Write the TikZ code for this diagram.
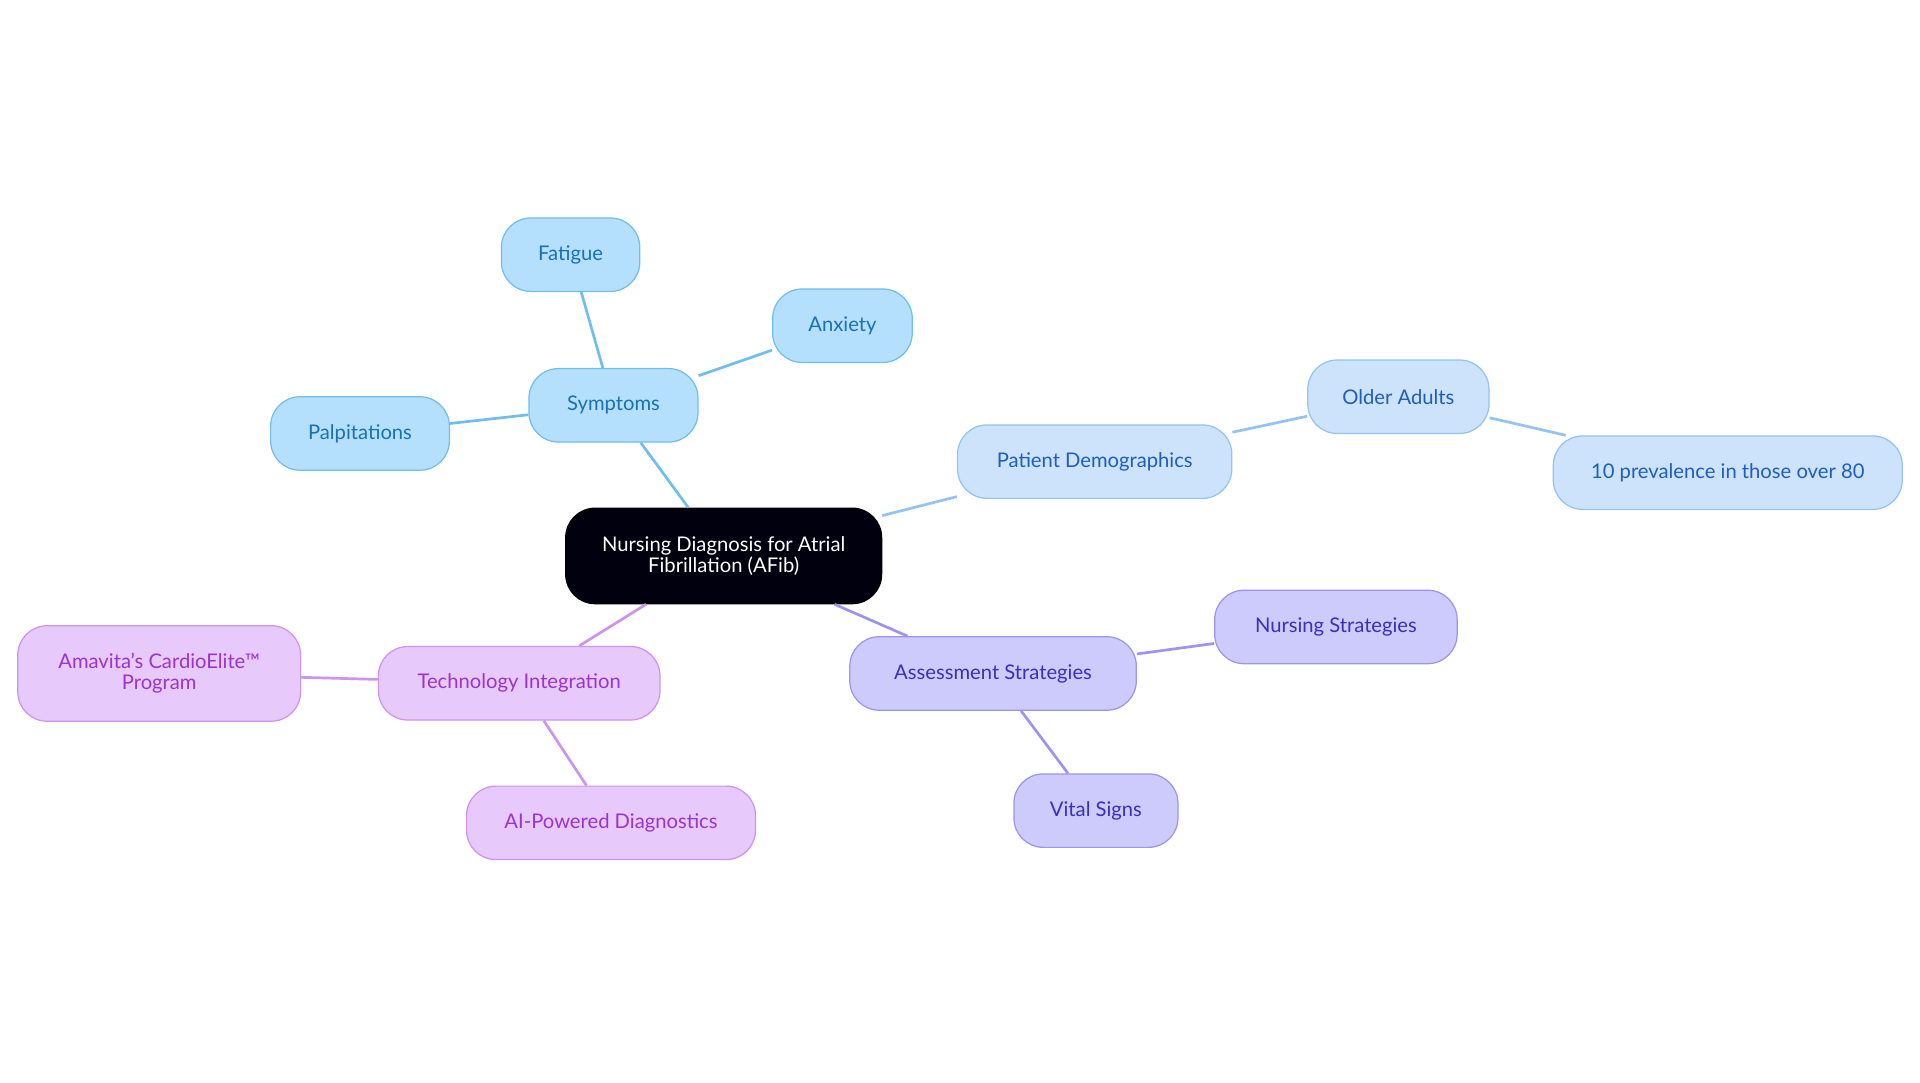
\documentclass[tikz,border=0pt]{standalone}
\usepackage{fontspec}
\setmainfont{Lato}
\begin{document}
\begin{tikzpicture}[x=1pt,y=-1pt,
base/.style={rounded corners=24pt,minimum height=60pt,align=center,font=\fontsize{16.5}{17}\selectfont,line width=1pt,inner sep=0pt},
sym/.style={base,fill=symF,draw=symD,text=symT},
dem/.style={base,fill=demF,draw=demD,text=demT},
ass/.style={base,fill=assF,draw=assD,text=assT},
tec/.style={base,fill=tecF,draw=tecD,text=tecT},
e/.style={line width=2.2pt}]
\definecolor{symF}{HTML}{B5E0FD}\definecolor{symD}{HTML}{70BDF0}\definecolor{symT}{HTML}{1A70B5}
\definecolor{demF}{HTML}{CCE3FB}\definecolor{demD}{HTML}{94C2F2}\definecolor{demT}{HTML}{1F5DBE}
\definecolor{assF}{HTML}{CDCBFC}\definecolor{assD}{HTML}{9C94F0}\definecolor{assT}{HTML}{3A2FBE}
\definecolor{tecF}{HTML}{E8C9FB}\definecolor{tecD}{HTML}{CC94F0}\definecolor{tecT}{HTML}{9A34CF}
\useasboundingbox (0,0) rectangle (1568,884);
\node[base,fill=black!90!blue!60!black,draw=black,text=white,minimum width=258pt,minimum height=78pt] (c) at (591,454) {Nursing Diagnosis for Atrial\\Fibrillation (AFib)};
\node[sym,minimum width=138pt] (s) at (501,331) {Symptoms};
\node[sym,minimum width=113pt] (f) at (466,208) {Fatigue};
\node[sym,minimum width=114pt] (a) at (688,266) {Anxiety};
\node[sym,minimum width=146pt] (p) at (294,354) {Palpitations};
\node[dem,minimum width=224pt] (d) at (894,377) {Patient Demographics};
\node[dem,minimum width=148pt] (o) at (1142,324) {Older Adults};
\node[dem,minimum width=285pt] (t) at (1411,386) {10 prevalence in those over 80};
\node[ass,minimum width=234pt] (as) at (811,550) {Assessment Strategies};
\node[ass,minimum width=198pt] (n) at (1091,512) {Nursing Strategies};
\node[ass,minimum width=134pt] (v) at (895,662) {Vital Signs};
\node[tec,minimum width=230pt] (ti) at (424,558) {Technology Integration};
\node[tec,minimum width=231pt,minimum height=78pt] (am) at (130,550) {Amavita's CardioElite™\\Program};
\node[tec,minimum width=236pt] (ai) at (499,672) {AI-Powered Diagnostics};
\begin{scope}[on background layer/.style={}]
\end{scope}
\draw[e,symD] (c) -- (s); \draw[e,symD] (s) -- (f); \draw[e,symD] (s) -- (a); \draw[e,symD] (s) -- (p);
\draw[e,demD] (c) -- (d); \draw[e,demD] (d) -- (o); \draw[e,demD] (o) -- (t);
\draw[e,assD] (c) -- (as); \draw[e,assD] (as) -- (n); \draw[e,assD] (as) -- (v);
\draw[e,tecD] (c) -- (ti); \draw[e,tecD] (ti) -- (am); \draw[e,tecD] (ti) -- (ai);
\end{tikzpicture}
\end{document}
